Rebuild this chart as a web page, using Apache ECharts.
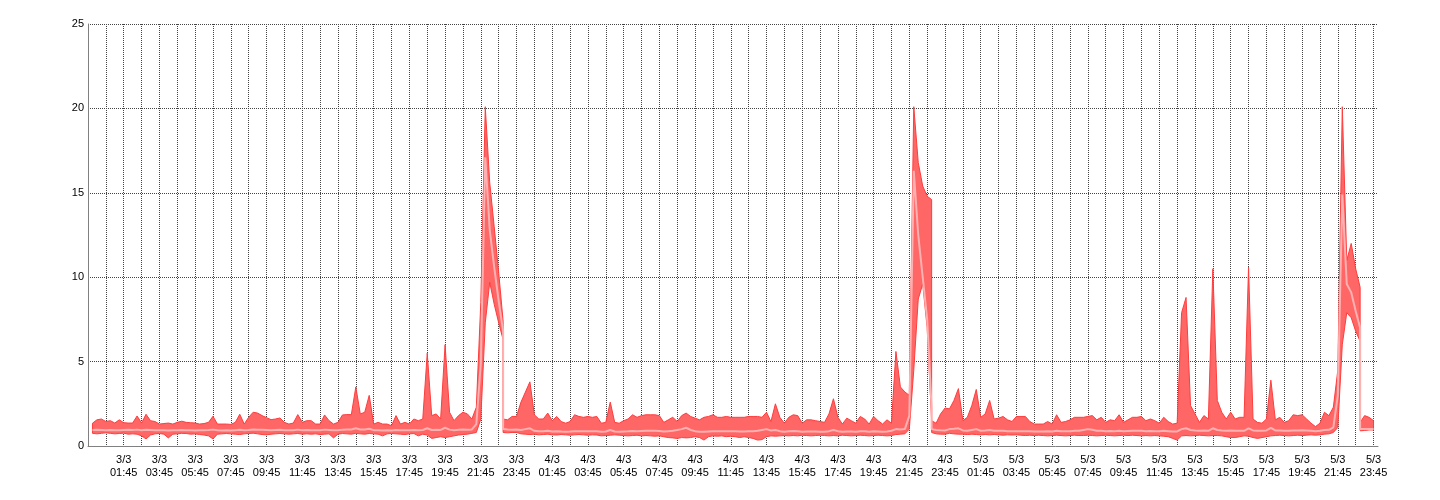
<!DOCTYPE html>
<html><head><meta charset="utf-8">
<script src="https://cdn.jsdelivr.net/npm/echarts@6/dist/echarts.min.js"></script>
<style>html,body{margin:0;padding:0;background:#fff}#c{width:1440px;height:500px}</style>
</head><body><div id="c"></div>
<script>
// Day labels (tick labels are "<day>\n<hh>:45")
const DAYS = ['3/3', '4/3', '5/3'];
// 15-minute samples 00:00 .. 23:45 per day (index 92 = 23:00 value after the drop)
const MAX_3_3 = [1.35,1.55,1.6,1.45,1.5,1.36,1.55,1.38,1.36,1.36,
  1.78,1.36,1.88,1.5,1.45,1.3,1.33,1.36,1.3,1.4,
  1.47,1.4,1.38,1.36,1.3,1.33,1.4,1.76,1.3,1.3,
  1.3,1.28,1.4,1.88,1.3,1.7,2.0,1.95,1.8,1.68,
  1.56,1.6,1.66,1.4,1.3,1.36,1.86,1.4,1.5,1.5,
  1.3,1.3,1.84,1.5,1.3,1.4,1.84,1.86,1.86,3.5,
  1.9,2.0,3.0,1.3,1.4,1.3,1.3,1.2,1.8,1.3,
  1.4,1.3,1.6,1.5,1.6,5.5,1.8,1.9,1.6,6.0,
  2.0,1.5,1.8,2.0,1.9,1.6,2.3,8.5,20.1,15.6,
  13.0,10.3,1.6,1.55,1.75,1.75];
const MIN_3_3 = [0.75,0.72,0.75,0.78,0.75,0.72,0.74,0.76,0.7,0.72,
  0.7,0.6,0.42,0.65,0.72,0.74,0.7,0.48,0.7,0.72,
  0.75,0.74,0.7,0.72,0.68,0.65,0.6,0.42,0.7,0.72,
  0.74,0.72,0.7,0.68,0.72,0.74,0.76,0.72,0.68,0.66,
  0.7,0.72,0.74,0.72,0.7,0.72,0.74,0.7,0.72,0.7,
  0.72,0.68,0.7,0.72,0.48,0.7,0.74,0.72,0.7,0.75,
  0.72,0.7,0.74,0.72,0.7,0.6,0.72,0.74,0.72,0.7,
  0.68,0.72,0.74,0.6,0.7,0.65,0.45,0.5,0.55,0.5,
  0.55,0.6,0.65,0.68,0.7,0.75,0.8,1.6,7.3,9.7,
  8.4,7.3,0.8,0.78,0.8,0.8];
const AVG_3_3 = [0.95,0.96,0.95,0.94,0.95,0.93,0.94,0.95,0.96,0.95,
  0.97,0.93,0.96,0.95,0.94,0.93,0.94,0.92,0.93,0.94,
  0.95,0.94,0.93,0.92,0.93,0.94,0.95,0.97,0.93,0.92,
  0.93,0.92,0.94,0.96,0.93,0.95,0.98,0.97,0.96,0.95,
  0.94,0.95,0.96,0.94,0.93,0.94,0.97,0.94,0.95,0.94,
  0.93,0.94,0.97,0.95,0.93,0.94,0.97,0.98,0.98,1.05,
  0.98,0.98,1.02,0.94,0.93,0.92,0.93,0.92,0.95,0.93,
  0.94,0.93,0.95,0.94,0.95,1.05,0.95,0.96,0.95,1.08,
  0.97,0.94,0.96,0.98,0.97,0.98,1.3,4.9,17.1,12.8,
  10.6,8.6,1.0,0.98,0.97,0.98];

const MAX_4_3 = [2.6,3.2,3.8,1.85,1.6,1.6,1.95,1.5,1.75,1.45,
  1.35,1.45,1.85,1.75,1.7,1.75,1.7,1.75,1.35,1.4,
  2.6,1.4,1.35,1.5,1.6,1.85,1.7,1.8,1.85,1.85,
  1.85,1.8,1.4,1.55,1.7,1.45,1.8,1.95,1.75,1.65,
  1.55,1.7,1.75,1.85,1.7,1.7,1.75,1.7,1.7,1.7,
  1.7,1.75,1.75,1.75,1.7,2.0,1.45,2.5,1.7,1.35,
  1.7,1.85,1.8,1.35,1.55,1.55,1.5,1.45,1.4,1.9,
  2.8,1.7,1.3,1.65,1.5,1.35,1.75,1.6,1.3,1.75,
  1.5,1.3,1.55,1.35,5.6,3.5,3.2,3.0,20.1,16.8,
  15.4,14.8,1.5,1.35,1.9,2.25];
const MIN_4_3 = [0.72,0.7,0.68,0.7,0.66,0.68,0.7,0.66,0.65,0.68,
  0.66,0.64,0.66,0.68,0.66,0.64,0.66,0.65,0.6,0.62,
  0.64,0.66,0.64,0.62,0.6,0.62,0.64,0.6,0.62,0.6,
  0.58,0.6,0.55,0.5,0.48,0.45,0.5,0.48,0.5,0.55,
  0.5,0.35,0.55,0.6,0.58,0.6,0.55,0.58,0.55,0.5,
  0.55,0.5,0.45,0.35,0.38,0.55,0.6,0.58,0.6,0.62,
  0.6,0.62,0.6,0.64,0.62,0.6,0.62,0.64,0.62,0.6,
  0.62,0.6,0.64,0.62,0.6,0.62,0.64,0.62,0.6,0.62,
  0.64,0.62,0.6,0.62,0.68,0.7,0.72,1.0,4.5,8.7,
  9.6,7.0,0.8,0.72,0.7,0.7];
const AVG_4_3 = [0.95,1.0,1.05,0.9,0.88,0.87,0.9,0.86,0.88,0.86,
  0.85,0.86,0.88,0.88,0.87,0.88,0.87,0.88,0.85,0.86,
  0.95,0.86,0.85,0.86,0.87,0.89,0.88,0.89,0.9,0.9,
  0.9,0.89,0.86,0.88,0.9,0.95,1.0,1.08,0.95,0.88,
  0.85,0.84,0.86,0.88,0.87,0.87,0.88,0.87,0.87,0.86,
  0.86,0.87,0.88,0.9,0.95,1.0,0.92,0.95,0.88,0.85,
  0.87,0.89,0.88,0.85,0.86,0.86,0.86,0.85,0.85,0.88,
  0.95,0.88,0.85,0.86,0.86,0.85,0.87,0.87,0.85,0.87,
  0.86,0.85,0.86,0.9,1.0,0.98,1.0,1.8,16.3,12.5,
  10.0,7.5,1.0,0.95,0.93,0.92];

const MAX_5_3 = [2.2,2.7,3.4,1.5,1.7,2.4,3.35,1.7,1.9,2.7,
  1.6,1.65,1.75,1.55,1.45,1.75,1.75,1.75,1.45,1.3,
  1.3,1.3,1.45,1.3,1.85,1.4,1.45,1.55,1.7,1.7,
  1.7,1.75,1.8,1.55,1.7,1.4,1.55,1.5,1.85,1.4,
  1.55,1.7,1.7,1.75,1.5,1.6,1.5,1.35,1.7,1.45,
  1.3,1.35,7.9,8.8,2.4,1.9,1.4,1.8,1.6,10.5,
  2.7,2.0,1.6,2.0,1.6,1.7,1.7,10.6,1.6,1.4,
  1.35,1.6,3.9,1.55,1.7,1.4,1.5,1.85,1.8,1.85,
  1.6,1.35,1.15,1.35,2.0,1.8,2.3,4.5,20.1,11.0,
  12.0,10.5,1.4,1.8,1.7,1.5];
const MIN_5_3 = [0.75,0.72,0.7,0.7,0.68,0.7,0.68,0.66,0.68,0.66,
  0.68,0.66,0.64,0.66,0.65,0.66,0.64,0.62,0.64,0.62,
  0.64,0.62,0.6,0.62,0.64,0.62,0.6,0.62,0.64,0.62,
  0.62,0.64,0.62,0.6,0.62,0.64,0.62,0.6,0.62,0.64,
  0.62,0.64,0.62,0.6,0.62,0.6,0.62,0.6,0.58,0.55,
  0.45,0.35,0.6,0.62,0.6,0.62,0.64,0.62,0.6,0.62,
  0.62,0.6,0.55,0.5,0.5,0.55,0.6,0.58,0.5,0.45,
  0.5,0.55,0.6,0.62,0.64,0.62,0.6,0.62,0.64,0.62,
  0.64,0.66,0.64,0.66,0.7,0.72,0.8,1.1,6.0,7.9,
  7.6,6.8,0.9,0.92,0.95,0.95];
const AVG_5_3 = [1.0,1.02,1.05,0.92,0.9,0.95,1.0,0.9,0.92,0.95,
  0.9,0.9,0.9,0.88,0.87,0.88,0.88,0.88,0.87,0.86,
  0.86,0.86,0.87,0.86,0.9,0.87,0.87,0.88,0.9,0.9,
  0.95,1.0,0.96,0.9,0.9,0.88,0.89,0.88,0.9,0.88,
  0.89,0.9,0.9,0.9,0.88,0.89,0.88,0.87,0.9,0.88,
  0.86,0.86,1.0,1.05,0.95,0.92,0.9,0.92,0.9,1.05,
  0.95,0.92,0.9,0.92,0.9,0.9,0.9,1.05,0.92,0.9,
  0.9,0.92,1.08,0.92,0.92,0.9,0.9,0.92,0.92,0.93,
  0.92,0.9,0.88,0.9,0.95,0.96,1.1,3.0,14.9,9.6,
  9.1,8.0,1.0,1.0,1.0,1.0];

// Values at 23:00 just before the nightly drop (same timestamp, higher reading)
const PRE_DROP_MAX = [7.4, 14.6, 9.4];
const PRE_DROP_AVG = [6.8, 2.2, 7.0];
const PRE_DROP_MIN = [6.3, 1.5, 6.2];

const MAX_DAYS = [MAX_3_3, MAX_4_3, MAX_5_3];
const MIN_DAYS = [MIN_3_3, MIN_4_3, MIN_5_3];
const AVG_DAYS = [AVG_3_3, AVG_4_3, AVG_5_3];

// x = hours since 2/3 23:45 (so hourly grid lines fall on hh:45)
const DROP_INDEX = 92;
const maxPts = [], minPts = [], avgPts = [];
for (let d = 0; d < DAYS.length; d++) {
  for (let k = 0; k < 96; k++) {
    const x = 0.25 + d * 24 + k / 4;
    if (k === DROP_INDEX) {
      maxPts.push([x, PRE_DROP_MAX[d]]);
      minPts.push([x, PRE_DROP_MIN[d]]);
      avgPts.push([x, PRE_DROP_AVG[d]]);
    }
    maxPts.push([x, MAX_DAYS[d][k]]);
    minPts.push([x, MIN_DAYS[d][k]]);
    avgPts.push([x, AVG_DAYS[d][k]]);
  }
}

const FONT = '"Liberation Sans", Arial, sans-serif';
const GRID_LINE = { color: '#444', width: 1, type: [1, 1] };

const chart = echarts.init(document.getElementById('c'), null, { renderer: 'canvas' });
chart.setOption({
  animation: false,
  backgroundColor: '#fff',
  grid: { left: 88, right: 62, top: 24, bottom: 54, containLabel: false },
  xAxis: {
    type: 'value', min: 0, max: 72.25, interval: 1,
    axisLine: { show: true, onZero: false, lineStyle: { color: '#808080', width: 1 } },
    axisTick: { show: false },
    splitLine: { show: true, showMinLine: false, showMaxLine: false, lineStyle: GRID_LINE },
    axisLabel: {
      show: true, margin: 7, color: '#000', fontFamily: FONT, fontSize: 11, lineHeight: 13,
      showMinLabel: true, showMaxLabel: false,
      formatter: function (v) {
        if (Math.abs(v - Math.round(v)) > 1e-6) return '';
        v = Math.round(v);
        if (v < 2 || v % 2 !== 0) return '';
        const h = v - 0.25;
        const day = Math.floor(h / 24);
        const hh = Math.floor(h) % 24;
        return DAYS[day] + '\n' + (hh < 10 ? '0' : '') + hh + ':45';
      }
    }
  },
  yAxis: {
    type: 'value', min: 0, max: 25, interval: 5,
    axisLine: { show: true, lineStyle: { color: '#808080', width: 1 } },
    axisTick: { show: false },
    splitLine: { show: true, showMinLine: false, lineStyle: GRID_LINE },
    axisLabel: { margin: 4, color: '#000', fontFamily: FONT, fontSize: 11 }
  },
  series: [
    {
      type: 'custom',
      coordinateSystem: 'cartesian2d',
      silent: true,
      z: 2,
      data: [[0.25, 0]],
      encode: { x: 0, y: 1 },
      renderItem: function (params, api) {
        const pts = [];
        for (let i = 0; i < maxPts.length; i++) pts.push(api.coord(maxPts[i]));
        for (let i = minPts.length - 1; i >= 0; i--) pts.push(api.coord(minPts[i]));
        return {
          type: 'polygon',
          shape: { points: pts },
          style: { fill: '#ff6666', stroke: '#ff3d3d', lineWidth: 1, lineJoin: 'miter' }
        };
      }
    },
    {
      type: 'line',
      data: avgPts,
      showSymbol: false,
      symbol: 'none',
      silent: true,
      z: 3,
      lineStyle: { color: '#ffb0b0', width: 2 }
    }
  ]
});
</script>
</body></html>
